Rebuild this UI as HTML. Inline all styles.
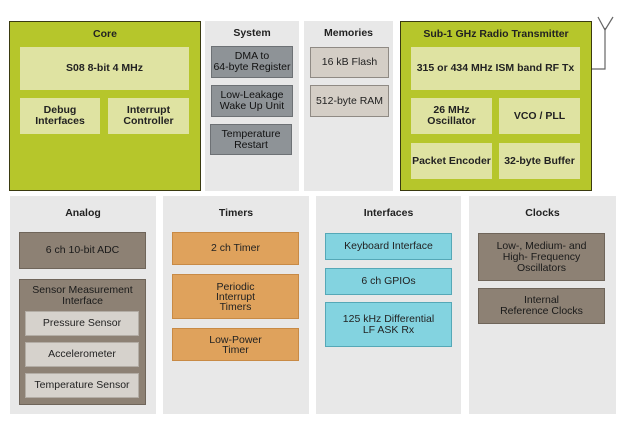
<!DOCTYPE html>
<html><head><style>
body{margin:0;width:631px;height:435px;background:#fff;position:relative;overflow:hidden;font-family:"Liberation Sans",Arial,sans-serif;}
.b{position:absolute;box-sizing:border-box;display:flex;align-items:center;justify-content:center;text-align:center;font-size:10.5px;line-height:11px;color:#222;}
.p{background:#e8e8e8;align-items:flex-start;padding-top:12px;font-weight:bold;font-size:10.5px;}
.g{background:#b6c62b;border:1px solid #3a3a10;align-items:flex-start;padding-top:7px;font-weight:bold;}
.l{background:#dfe3a2;font-weight:bold;}
.s{background:#8e9397;border:1px solid #6d7175;color:#111;}
.m{background:#d4cec6;border:1px solid #8f8a84;}
.a{background:#8d8174;border:1px solid #6f655a;color:#1a1a1a;}
.t{background:#dfa25c;border:1px solid #c88a45;}
.c{background:#83d3e0;border:1px solid #55a8b7;}
.i{background:#d6d2cc;border:1px solid #b3ada5;}
</style></head><body>
<div class="b g" style="left:9px;top:21px;width:192px;height:170px;">Core</div>
<div class="b l" style="left:20px;top:47px;width:169px;height:43px;">S08 8-bit 4 MHz</div>
<div class="b l" style="left:20px;top:98px;width:80px;height:36px;">Debug<br>Interfaces</div>
<div class="b l" style="left:108px;top:98px;width:81px;height:36px;">Interrupt<br>Controller</div>

<div class="b p" style="left:205px;top:21px;width:94px;height:170px;padding-top:7px;">System</div>
<div class="b s" style="left:211px;top:46px;width:82px;height:32px;">DMA to<br>64-byte Register</div>
<div class="b s" style="left:211px;top:85px;width:82px;height:32px;">Low-Leakage<br>Wake Up Unit</div>
<div class="b s" style="left:210px;top:124px;width:82px;height:31px;">Temperature<br>Restart</div>

<div class="b p" style="left:304px;top:21px;width:89px;height:170px;padding-top:7px;">Memories</div>
<div class="b m" style="left:310px;top:47px;width:79px;height:31px;">16 kB Flash</div>
<div class="b m" style="left:310px;top:85px;width:79px;height:32px;">512-byte RAM</div>

<div class="b g" style="left:400px;top:21px;width:192px;height:170px;">Sub-1 GHz Radio Transmitter</div>
<div class="b l" style="left:411px;top:47px;width:169px;height:43px;">315 or 434 MHz ISM band RF Tx</div>
<div class="b l" style="left:411px;top:98px;width:81px;height:36px;">26 MHz<br>Oscillator</div>
<div class="b l" style="left:499px;top:98px;width:81px;height:36px;">VCO / PLL</div>
<div class="b l" style="left:411px;top:143px;width:81px;height:36px;">Packet Encoder</div>
<div class="b l" style="left:499px;top:143px;width:81px;height:36px;">32-byte Buffer</div>
<svg style="position:absolute;left:0;top:0" width="631" height="435"><polyline points="592,69 605,69 605,28" fill="none" stroke="#666" stroke-width="1.2"/><polyline points="598,17 605,30 613,17" fill="none" stroke="#666" stroke-width="1.2"/></svg>

<div class="b p" style="left:10px;top:196px;width:146px;height:218px;">Analog</div>
<div class="b a" style="left:19px;top:232px;width:127px;height:37px;">6 ch 10-bit ADC</div>
<div class="b a" style="left:19px;top:279px;width:127px;height:126px;align-items:flex-start;padding-top:5px;">Sensor Measurement<br>Interface</div>
<div class="b i" style="left:25px;top:311px;width:114px;height:25px;">Pressure Sensor</div>
<div class="b i" style="left:25px;top:342px;width:114px;height:25px;">Accelerometer</div>
<div class="b i" style="left:25px;top:373px;width:114px;height:25px;">Temperature Sensor</div>

<div class="b p" style="left:163px;top:196px;width:146px;height:218px;">Timers</div>
<div class="b t" style="left:172px;top:232px;width:127px;height:33px;">2 ch Timer</div>
<div class="b t" style="left:172px;top:274px;width:127px;height:45px;line-height:10px;">Periodic<br>Interrupt<br>Timers</div>
<div class="b t" style="left:172px;top:328px;width:127px;height:33px;line-height:10px;">Low-Power<br>Timer</div>

<div class="b p" style="left:316px;top:196px;width:145px;height:218px;">Interfaces</div>
<div class="b c" style="left:325px;top:233px;width:127px;height:27px;">Keyboard Interface</div>
<div class="b c" style="left:325px;top:268px;width:127px;height:27px;">6 ch GPIOs</div>
<div class="b c" style="left:325px;top:302px;width:127px;height:45px;">125 kHz Differential<br>LF ASK Rx</div>

<div class="b p" style="left:469px;top:196px;width:147px;height:218px;">Clocks</div>
<div class="b a" style="left:478px;top:233px;width:127px;height:48px;">Low-, Medium- and<br>High- Frequency<br>Oscillators</div>
<div class="b a" style="left:478px;top:288px;width:127px;height:36px;">Internal<br>Reference Clocks</div>
</body></html>
